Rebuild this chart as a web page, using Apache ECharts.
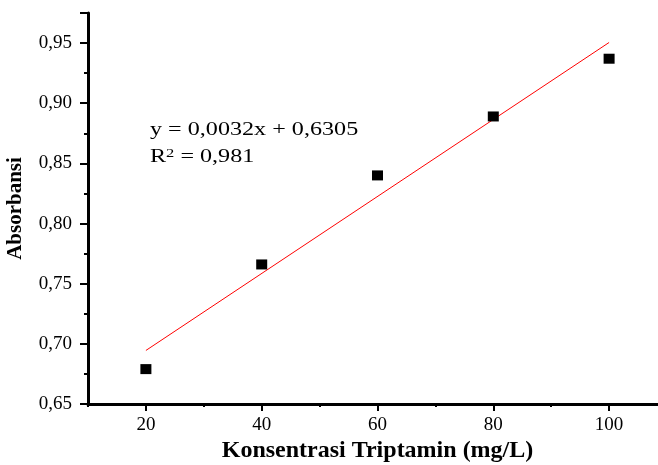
<!DOCTYPE html>
<html>
<head>
<meta charset="utf-8">
<script src="https://cdn.jsdelivr.net/npm/echarts@6/dist/echarts.min.js"></script>
<style>
  html, body { margin: 0; padding: 0; background: #fff; }
  #chart { width: 658px; height: 465px; }
</style>
</head>
<body>
<div id="chart"></div>
<script>
// data points (konsentrasi vs absorbansi)
var konsentrasi = [20, 40, 60, 80, 100];
var absorbansi = [0.679, 0.766, 0.840, 0.889, 0.937];
// fitted line ends
var fitX = [20, 100];
var fitY = [0.6945, 0.9505];
var xLabels = [20, 40, 60, 80, 100];

var serif = '"Liberation Serif", "DejaVu Serif", serif';

var pts = konsentrasi.map(function (x, i) { return [x, absorbansi[i]]; });
var fit = fitX.map(function (x, i) { return [x, fitY[i]]; });

var chart = echarts.init(document.getElementById('chart'));
var option = {
    animation: false,
    grid: { left: 88, top: 13, right: -9, bottom: 61, outerBoundsMode: 'none' },
    xAxis: [
        {
            type: 'value',
            min: 10, max: 110, interval: 10,
            axisLine: { show: true, lineStyle: { color: '#000', width: 3 } },
            axisTick: { show: true, length: 3, lineStyle: { color: '#000', width: 2 } },
            axisLabel: { show: false },
            splitLine: { show: false },
            name: 'Konsentrasi Triptamin (mg/L)',
            nameLocation: 'middle',
            nameGap: 35,
            nameTextStyle: { fontFamily: serif, fontSize: 24, fontWeight: 'bold', color: '#000' }
        },
        {
            type: 'value',
            position: 'bottom',
            min: 10, max: 110,
            axisLine: { show: false },
            axisTick: { show: true, length: 7, customValues: xLabels, lineStyle: { color: '#000', width: 2 } },
            axisLabel: { show: true, customValues: xLabels, margin: 12, fontFamily: serif, fontSize: 19, color: '#000' },
            splitLine: { show: false }
        }
    ],
    yAxis: {
        type: 'value',
        min: 0.65, max: 0.975, interval: 0.05,
        axisLine: { show: true, lineStyle: { color: '#000', width: 3 } },
        axisTick: { show: true, length: 8, lineStyle: { color: '#000', width: 2 } },
        minorTick: { show: true, splitNumber: 2, length: 4, lineStyle: { color: '#000', width: 2 } },
        axisLabel: {
            margin: 16, fontFamily: serif, fontSize: 19, color: '#000', showMaxLabel: false,
            formatter: function (v) { return v.toFixed(2).replace('.', ','); }
        },
        splitLine: { show: false },
        name: 'Absorbansi',
        nameLocation: 'middle',
        nameGap: 62,
        nameTextStyle: { fontFamily: serif, fontSize: 21, fontWeight: 'bold', color: '#000' }
    },
    series: [
        {
            type: 'line',
            data: fit,
            showSymbol: false,
            lineStyle: { color: '#ff0000', width: 1 },
            z: 2
        },
        {
            type: 'scatter',
            data: pts,
            symbol: 'rect',
            symbolSize: [11, 10],
            itemStyle: { color: '#000', opacity: 1 },
            z: 3
        }
    ],
    graphic: [
        {
            type: 'text', x: 150, y: 121, scaleX: 1.27,
            style: { text: 'y = 0,0032x + 0,6305', font: '19px ' + serif, fill: '#000' }
        },
        {
            type: 'text', x: 150, y: 147, scaleX: 1.27,
            style: {
                text: '{a|R}{s|2}{a| = 0,981}',
                rich: {
                    a: { fontFamily: serif, fontSize: 19, color: '#000' },
                    s: { fontFamily: serif, fontSize: 13, color: '#000', verticalAlign: 'top', padding: [0, 0, 8, 0] }
                }
            }
        }
    ]
};
chart.setOption(option);
</script>
</body>
</html>
